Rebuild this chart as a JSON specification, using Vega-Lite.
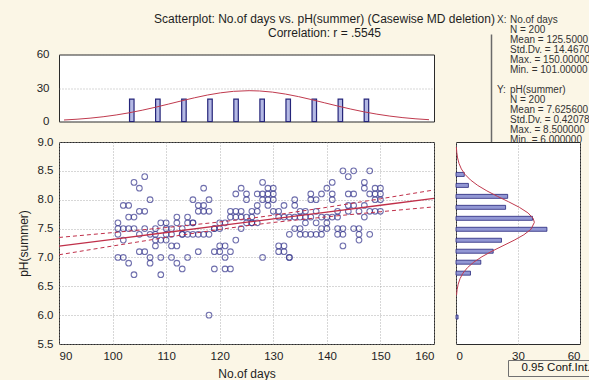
{
  "$schema": "https://vega.github.io/schema/vega-lite/v6.json",
  "background": "#fbf6e6",
  "padding": {"left": 16, "top": 12, "right": 0, "bottom": 0},
  "config": {
    "font": "Liberation Sans",
    "view": {"fill": "white", "stroke": "#2b2b2b", "strokeWidth": 1},
    "axis": {"labelFont": "Liberation Sans", "labelFontSize": 11.5, "labelColor": "#1e1e1e", "titleFont": "Liberation Sans", "titleFontSize": 12, "titleFontWeight": "normal", "titleColor": "#1e1e1e", "domain": false, "ticks": false, "gridDash": [1, 2], "gridColor": "#9a9a9a", "gridWidth": 0.8, "labelPadding": 6}
  },
  "datasets": {
    "pts": [
      {"d":101,"p":7.6},{"d":101,"p":7.5},{"d":101,"p":7.4},{"d":101,"p":7.0},
      {"d":102,"p":7.9},{"d":102,"p":7.5},{"d":102,"p":7.3},{"d":102,"p":7.0},
      {"d":103,"p":7.9},{"d":103,"p":7.7},{"d":103,"p":7.5},{"d":103,"p":6.9},
      {"d":104,"p":8.3},{"d":104,"p":7.7},{"d":104,"p":7.5},{"d":104,"p":6.7},
      {"d":105,"p":8.2},{"d":105,"p":7.8},{"d":105,"p":7.4},{"d":105,"p":7.1},
      {"d":106,"p":8.4},{"d":106,"p":7.8},{"d":106,"p":7.5},{"d":106,"p":7.1},
      {"d":107,"p":8.0},{"d":107,"p":7.4},{"d":107,"p":7.0},{"d":107,"p":6.9},
      {"d":108,"p":7.5},{"d":108,"p":7.4},{"d":108,"p":7.3},{"d":108,"p":7.2},
      {"d":109,"p":7.6},{"d":109,"p":7.3},{"d":109,"p":7.0},{"d":109,"p":6.7},
      {"d":110,"p":7.6},{"d":110,"p":7.5},{"d":110,"p":7.4},{"d":110,"p":7.3},
      {"d":111,"p":7.5},{"d":111,"p":7.4},{"d":111,"p":7.2},{"d":111,"p":7.0},
      {"d":112,"p":7.7},{"d":112,"p":7.6},{"d":112,"p":7.2},{"d":112,"p":6.9},
      {"d":113,"p":7.5},{"d":113,"p":7.4},{"d":113,"p":7.4},{"d":113,"p":6.8},
      {"d":114,"p":7.7},{"d":114,"p":7.6},{"d":114,"p":7.4},{"d":114,"p":7.0},
      {"d":115,"p":8.0},{"d":115,"p":7.6},{"d":115,"p":7.6},{"d":115,"p":7.4},
      {"d":116,"p":7.9},{"d":116,"p":7.8},{"d":116,"p":7.4},{"d":116,"p":7.1},
      {"d":117,"p":8.2},{"d":117,"p":7.9},{"d":117,"p":7.8},{"d":117,"p":7.4},
      {"d":118,"p":8.0},{"d":118,"p":7.8},{"d":118,"p":7.4},{"d":118,"p":6.0},
      {"d":119,"p":7.5},{"d":119,"p":7.5},{"d":119,"p":7.1},{"d":119,"p":6.8},
      {"d":120,"p":7.6},{"d":120,"p":7.5},{"d":120,"p":7.2},{"d":120,"p":7.1},
      {"d":121,"p":7.6},{"d":121,"p":7.2},{"d":121,"p":7.0},{"d":121,"p":6.8},
      {"d":122,"p":7.8},{"d":122,"p":7.7},{"d":122,"p":7.1},{"d":122,"p":6.8},
      {"d":123,"p":8.1},{"d":123,"p":7.8},{"d":123,"p":7.7},{"d":123,"p":7.3},
      {"d":124,"p":8.2},{"d":124,"p":7.8},{"d":124,"p":7.7},{"d":124,"p":7.5},
      {"d":125,"p":8.1},{"d":125,"p":8.0},{"d":125,"p":7.7},{"d":125,"p":7.6},
      {"d":126,"p":7.8},{"d":126,"p":7.7},{"d":126,"p":7.6},{"d":126,"p":7.6},
      {"d":127,"p":8.1},{"d":127,"p":7.9},{"d":127,"p":7.8},{"d":127,"p":7.6},
      {"d":128,"p":8.3},{"d":128,"p":8.1},{"d":128,"p":8.0},{"d":128,"p":7.0},
      {"d":129,"p":8.2},{"d":129,"p":8.1},{"d":129,"p":8.0},{"d":129,"p":7.9},
      {"d":130,"p":8.2},{"d":130,"p":8.1},{"d":130,"p":8.0},{"d":130,"p":7.8},
      {"d":131,"p":7.8},{"d":131,"p":7.7},{"d":131,"p":7.2},{"d":131,"p":7.1},
      {"d":132,"p":7.9},{"d":132,"p":7.7},{"d":132,"p":7.2},{"d":132,"p":7.1},
      {"d":133,"p":7.7},{"d":133,"p":7.4},{"d":133,"p":7.0},{"d":133,"p":7.0},
      {"d":134,"p":8.0},{"d":134,"p":7.9},{"d":134,"p":7.7},{"d":134,"p":7.5},
      {"d":135,"p":7.8},{"d":135,"p":7.7},{"d":135,"p":7.5},{"d":135,"p":7.4},
      {"d":136,"p":7.8},{"d":136,"p":7.7},{"d":136,"p":7.6},{"d":136,"p":7.4},
      {"d":137,"p":8.1},{"d":137,"p":8.0},{"d":137,"p":7.7},{"d":137,"p":7.4},
      {"d":138,"p":8.0},{"d":138,"p":7.8},{"d":138,"p":7.6},{"d":138,"p":7.4},
      {"d":139,"p":8.1},{"d":139,"p":7.7},{"d":139,"p":7.5},{"d":139,"p":7.4},
      {"d":140,"p":8.2},{"d":140,"p":7.7},{"d":140,"p":7.6},{"d":140,"p":7.5},
      {"d":141,"p":8.3},{"d":141,"p":8.1},{"d":141,"p":8.0},{"d":141,"p":7.7},
      {"d":142,"p":7.8},{"d":142,"p":7.7},{"d":142,"p":7.5},{"d":142,"p":7.4},
      {"d":143,"p":8.5},{"d":143,"p":7.5},{"d":143,"p":7.4},{"d":143,"p":7.2},
      {"d":144,"p":8.4},{"d":144,"p":8.1},{"d":144,"p":7.9},{"d":144,"p":7.8},
      {"d":145,"p":8.5},{"d":145,"p":8.1},{"d":145,"p":7.9},{"d":145,"p":7.5},
      {"d":146,"p":7.8},{"d":146,"p":7.5},{"d":146,"p":7.4},{"d":146,"p":7.3},
      {"d":147,"p":8.3},{"d":147,"p":8.2},{"d":147,"p":7.9},{"d":147,"p":7.7},
      {"d":148,"p":8.5},{"d":148,"p":8.1},{"d":148,"p":7.8},{"d":148,"p":7.4},
      {"d":149,"p":8.2},{"d":149,"p":8.1},{"d":149,"p":8.0},{"d":149,"p":7.8},
      {"d":150,"p":8.2},{"d":150,"p":8.1},{"d":150,"p":8.0},{"d":150,"p":7.8}
    ],
    "fit": [
      {"d":90,"fit":7.196,"lo":7.046,"hi":7.346},
      {"d":100,"fit":7.314,"lo":7.198,"hi":7.430},
      {"d":110,"fit":7.432,"lo":7.347,"hi":7.517},
      {"d":120,"fit":7.550,"lo":7.486,"hi":7.614},
      {"d":125.5,"fit":7.615,"lo":7.555,"hi":7.675},
      {"d":130,"fit":7.668,"lo":7.606,"hi":7.731},
      {"d":140,"fit":7.786,"lo":7.704,"hi":7.868},
      {"d":150,"fit":7.904,"lo":7.792,"hi":8.016},
      {"d":160,"fit":8.022,"lo":7.876,"hi":8.169}
    ],
    "xbins": [
      {"c":103,"n":20},{"c":108,"n":20},{"c":113,"n":20},{"c":118,"n":20},{"c":123,"n":20},
      {"c":128,"n":20},{"c":133,"n":20},{"c":138,"n":20},{"c":143,"n":20},{"c":148,"n":20}
    ],
    "xcurve": [
      {"c":90,"n":1.36},{"c":92.5,"n":2.05},{"c":95,"n":2.99},{"c":97.5,"n":4.24},{"c":100,"n":5.84},
      {"c":102.5,"n":7.80},{"c":105,"n":10.11},{"c":107.5,"n":12.73},{"c":110,"n":15.55},{"c":112.5,"n":18.43},
      {"c":115,"n":21.21},{"c":117.5,"n":23.69},{"c":120,"n":25.67},{"c":122.5,"n":27.01},{"c":125.5,"n":27.6},
      {"c":127.5,"n":27.34},{"c":130,"n":26.30},{"c":132.5,"n":24.55},{"c":135,"n":22.25},{"c":137.5,"n":19.57},
      {"c":140,"n":16.70},{"c":142.5,"n":13.84},{"c":145,"n":11.13},{"c":147.5,"n":8.68},{"c":150,"n":6.58},
      {"c":152.5,"n":4.84},{"c":155,"n":3.45},{"c":157.5,"n":2.39},{"c":160,"n":1.61}
    ],
    "ybins": [
      {"m":8.5,"n":4},{"m":8.3,"n":6},{"m":8.1,"n":25},{"m":7.9,"n":24},{"m":7.7,"n":37},{"m":7.5,"n":44},
      {"m":7.3,"n":22},{"m":7.1,"n":18},{"m":6.9,"n":12},{"m":6.7,"n":7},{"m":5.9,"n":1}
    ],
    "ycurve": [
      {"m":6.3,"n":0.27},{"m":6.4,"n":0.54},{"m":6.5,"n":1.06},{"m":6.6,"n":1.95},{"m":6.7,"n":3.37},
      {"m":6.8,"n":5.54},{"m":6.9,"n":8.58},{"m":7.0,"n":12.56},{"m":7.1,"n":17.38},{"m":7.2,"n":22.73},
      {"m":7.3,"n":28.11},{"m":7.4,"n":32.84},{"m":7.5,"n":36.27},{"m":7.6256,"n":37.92},{"m":7.7,"n":37.33},
      {"m":7.8,"n":34.80},{"m":7.9,"n":30.66},{"m":8.0,"n":25.52},{"m":8.1,"n":20.08},{"m":8.2,"n":14.94},
      {"m":8.3,"n":10.50},{"m":8.4,"n":6.98},{"m":8.5,"n":4.38},{"m":8.6,"n":2.59},{"m":8.7,"n":1.46},
      {"m":8.8,"n":0.77},{"m":8.9,"n":0.39},{"m":9.0,"n":0.18}
    ],
    "stats": [
      {"k":0,"tag":"X:","body":"No.of days"},
      {"k":1,"tag":"","body":"N = 200"},
      {"k":2,"tag":"","body":"Mean = 125.500000"},
      {"k":3,"tag":"","body":"Std.Dv. = 14.467083"},
      {"k":4,"tag":"","body":"Max. = 150.000000"},
      {"k":5,"tag":"","body":"Min. = 101.000000"},
      {"k":7,"tag":"Y:","body":"pH(summer)"},
      {"k":8,"tag":"","body":"N = 200"},
      {"k":9,"tag":"","body":"Mean = 7.625600"},
      {"k":10,"tag":"","body":"Std.Dv. = 0.420782"},
      {"k":11,"tag":"","body":"Max. = 8.500000"},
      {"k":12,"tag":"","body":"Min. = 6.000000"}
    ]
  },
  "columns": 2,
  "align": "each",
  "bounds": "flush",
  "center": {"row": true, "column": false},
  "spacing": {"row": 0, "column": 22},
  "concat": [
    {
      "width": 375,
      "height": 67,
      "title": {"text": ["Scatterplot: No.of days vs. pH(summer) (Casewise MD deletion)", "Correlation: r = .5545"], "font": "Liberation Sans", "fontSize": 12, "fontWeight": "normal", "color": "#1e1e1e", "anchor": "middle", "dx": 78, "offset": 9, "lineHeight": 14},
      "encoding": {
        "x": {"field": "c", "type": "quantitative", "scale": {"domain": [90, 160], "nice": false, "zero": false}, "axis": null},
        "y": {"field": "n", "type": "quantitative", "scale": {"domain": [0, 60], "nice": false}, "axis": {"values": [0, 30, 60], "title": null, "grid": true, "labelPadding": 10}}
      },
      "layer": [
        {"data": {"name": "xbins"}, "mark": {"type": "bar", "orient": "vertical", "size": 4.5, "fill": "#b4b9e4", "stroke": "#25257a", "strokeWidth": 1.2}},
        {"data": {"name": "xcurve"}, "mark": {"type": "line", "color": "#c03a4e", "strokeWidth": 1}}
      ]
    },
    {
      "width": 124,
      "height": 108,
      "view": {"fill": null, "stroke": null},
      "data": {"name": "stats"},
      "encoding": {
        "y": {"field": "k", "type": "quantitative", "scale": {"domain": [1.4, 12.2], "reverse": true, "nice": false, "zero": false}, "axis": {"title": null, "labels": false, "ticks": false, "grid": false, "domain": true, "domainColor": "#6a6a6a", "domainWidth": 1.5, "offset": -35}}
      },
      "layer": [
        {"transform": [{"filter": "datum.tag != ''"}], "mark": {"type": "text", "align": "left", "baseline": "middle", "dx": -21, "fontSize": 10, "color": "#333333"}, "encoding": {"text": {"field": "tag"}}},
        {"mark": {"type": "text", "align": "left", "baseline": "middle", "dx": -8, "fontSize": 10, "limit": 81, "ellipsis": "\u200b", "color": "#333333"}, "encoding": {"text": {"field": "body"}}}
      ]
    },
    {
      "width": 375,
      "height": 202,
      "encoding": {
        "x": {"field": "d", "type": "quantitative", "scale": {"domain": [90, 160], "nice": false, "zero": false}, "axis": {"values": [90, 100, 110, 120, 130, 140, 150, 160], "title": "No.of days", "grid": true, "labelPadding": 6, "titlePadding": 7}}
      },
      "layer": [
        {"data": {"name": "pts"}, "mark": {"type": "point", "shape": "circle", "filled": false, "size": 32, "strokeWidth": 1.1, "color": "#34348c"},
         "encoding": {"y": {"field": "p", "type": "quantitative", "scale": {"domain": [5.5, 9], "nice": false, "zero": false}, "axis": {"values": [5.5, 6, 6.5, 7, 7.5, 8, 8.5, 9], "format": ".1f", "title": "pH(summer)", "grid": true, "labelPadding": 6, "titlePadding": 7}}}},
        {"data": {"name": "fit"}, "mark": {"type": "line", "color": "#c0304a", "strokeWidth": 1.3},
         "encoding": {"y": {"field": "fit", "type": "quantitative", "scale": {"domain": [5.5, 9], "nice": false, "zero": false}, "axis": {"values": [5.5, 6, 6.5, 7, 7.5, 8, 8.5, 9], "format": ".1f", "title": "pH(summer)", "grid": true, "labelPadding": 6, "titlePadding": 7}}}},
        {"data": {"name": "fit"}, "mark": {"type": "line", "color": "#c0304a", "strokeWidth": 1},
         "encoding": {"y": {"field": "lo", "type": "quantitative", "scale": {"domain": [5.5, 9], "nice": false, "zero": false}, "axis": {"values": [5.5, 6, 6.5, 7, 7.5, 8, 8.5, 9], "format": ".1f", "title": "pH(summer)", "grid": true, "labelPadding": 6, "titlePadding": 7}},
           "strokeDash": {"datum": "0.95 Conf.Int.", "scale": {"range": [[4, 3]]}, "legend": {"title": null, "orient": "none", "legendX": 449, "legendY": 326, "strokeColor": "#707070", "fillColor": "#fbf6e6", "padding": 2, "labelFont": "Liberation Sans", "labelFontSize": 11.5, "labelColor": "#111111", "symbolSize": 0, "symbolStrokeWidth": 0, "labelOffset": 0}}}},
        {"data": {"name": "fit"}, "mark": {"type": "line", "color": "#c0304a", "strokeWidth": 1},
         "encoding": {"y": {"field": "hi", "type": "quantitative", "scale": {"domain": [5.5, 9], "nice": false, "zero": false}, "axis": {"values": [5.5, 6, 6.5, 7, 7.5, 8, 8.5, 9], "format": ".1f", "title": "pH(summer)", "grid": true, "labelPadding": 6, "titlePadding": 7}},
           "strokeDash": {"datum": "0.95 Conf.Int."}}}
      ]
    },
    {
      "width": 124,
      "height": 202,
      "encoding": {
        "x": {"field": "n", "type": "quantitative", "stack": null, "scale": {"domain": [0, 60], "nice": false}, "axis": {"values": [0, 30, 60], "title": null, "grid": true, "labelPadding": 6}},
        "y": {"field": "m", "type": "quantitative", "scale": {"domain": [5.5, 9], "nice": false, "zero": false}, "axis": null}
      },
      "layer": [
        {"data": {"name": "ybins"}, "mark": {"type": "bar", "orient": "horizontal", "size": 4, "fill": "#9297d4", "stroke": "#25257a", "strokeWidth": 0.8}},
        {"data": {"name": "ycurve"}, "mark": {"type": "line", "color": "#c03a4e", "strokeWidth": 1}, "encoding": {"order": {"field": "m", "type": "quantitative"}}}
      ]
    }
  ]
}
